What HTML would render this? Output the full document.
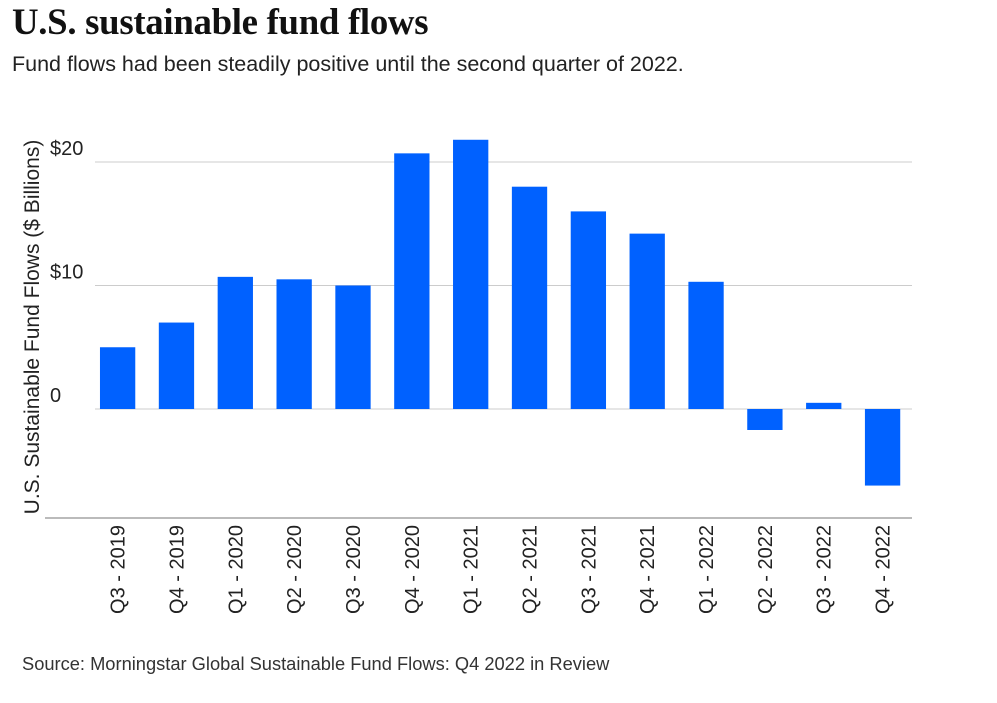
<!DOCTYPE html>
<html><head><meta charset="utf-8"><style>
body{margin:0;background:#fff;width:997px;height:703px;overflow:hidden;font-family:"Liberation Sans",sans-serif;}
#title{position:absolute;left:12px;top:0px;font-family:"Liberation Serif",serif;font-weight:bold;font-size:36.8px;color:#111;margin:0;letter-spacing:-0.3px}
#sub{position:absolute;left:12px;top:52px;font-size:21.5px;color:#222;margin:0}
#src{position:absolute;left:22px;top:653px;font-size:18.3px;color:#333;margin:0}
svg{position:absolute;left:0;top:0}
</style></head><body>
<h1 id="title">U.S. sustainable fund flows</h1>
<p id="sub">Fund flows had been steadily positive until the second quarter of 2022.</p>
<svg id="chart" width="997" height="703"></svg>
<p id="src">Source: Morningstar Global Sustainable Fund Flows: Q4 2022 in Review</p>
<script>
const categories=["Q3 - 2019","Q4 - 2019","Q1 - 2020","Q2 - 2020","Q3 - 2020","Q4 - 2020","Q1 - 2021","Q2 - 2021","Q3 - 2021","Q4 - 2021","Q1 - 2022","Q2 - 2022","Q3 - 2022","Q4 - 2022"];
const flows=[5.0,7.0,10.7,10.5,10.0,20.7,21.8,18.0,16.0,14.2,10.3,-1.7,0.5,-6.2];
const tickValues=[0,10,20];
const tickLabels=["0","$10","$20"];
const NS="http://www.w3.org/2000/svg";
const svg=document.getElementById('chart');
const x0=88.2,x1=912,yZero=409,pxPerUnit=12.35,axisY=518;
const band=(x1-x0)/categories.length;
const xs=i=>x0+band*i+band*0.2;
const y=v=>yZero-v*pxPerUnit;
function mk(t,a){const e=document.createElementNS(NS,t);for(const k in a)e.setAttribute(k,a[k]);svg.appendChild(e);return e;}
tickValues.forEach((v,i)=>{
 const g=mk('line',{x1:95,x2:x1,y1:y(v),y2:y(v),stroke:'#ccc','stroke-width':1});
 
 
 const t=mk('text',{x:50,y:y(v)-7,'text-anchor':'start','font-size':20,fill:'#222','font-family':'Liberation Sans'});
 t.textContent=tickLabels[i];
 
 
});
const ax=mk('line',{x1:45,x2:x1,y1:axisY,y2:axisY,stroke:'#bbb','stroke-width':2});


flows.forEach((v,i)=>{
 const top=Math.min(y(v),yZero),h=Math.abs(y(v)-yZero);
 const r=mk('rect',{x:xs(i),y:top,width:band*0.6,height:h,fill:'#0061ff'});
 
 
 const cx=xs(i)+band*0.3+7;
 const t=mk('text',{x:cx,y:525,'text-anchor':'end','font-size':20,fill:'#222','font-family':'Liberation Sans',transform:`rotate(-90 ${cx} 525)`});
 t.textContent=categories[i];
 
 
});
const yt=mk('text',{x:39,y:327,'text-anchor':'middle','font-size':21,fill:'#222','font-family':'Liberation Sans',transform:'rotate(-90 39 327)'});
yt.textContent="U.S. Sustainable Fund Flows ($ Billions)";


</script>
</body></html>
